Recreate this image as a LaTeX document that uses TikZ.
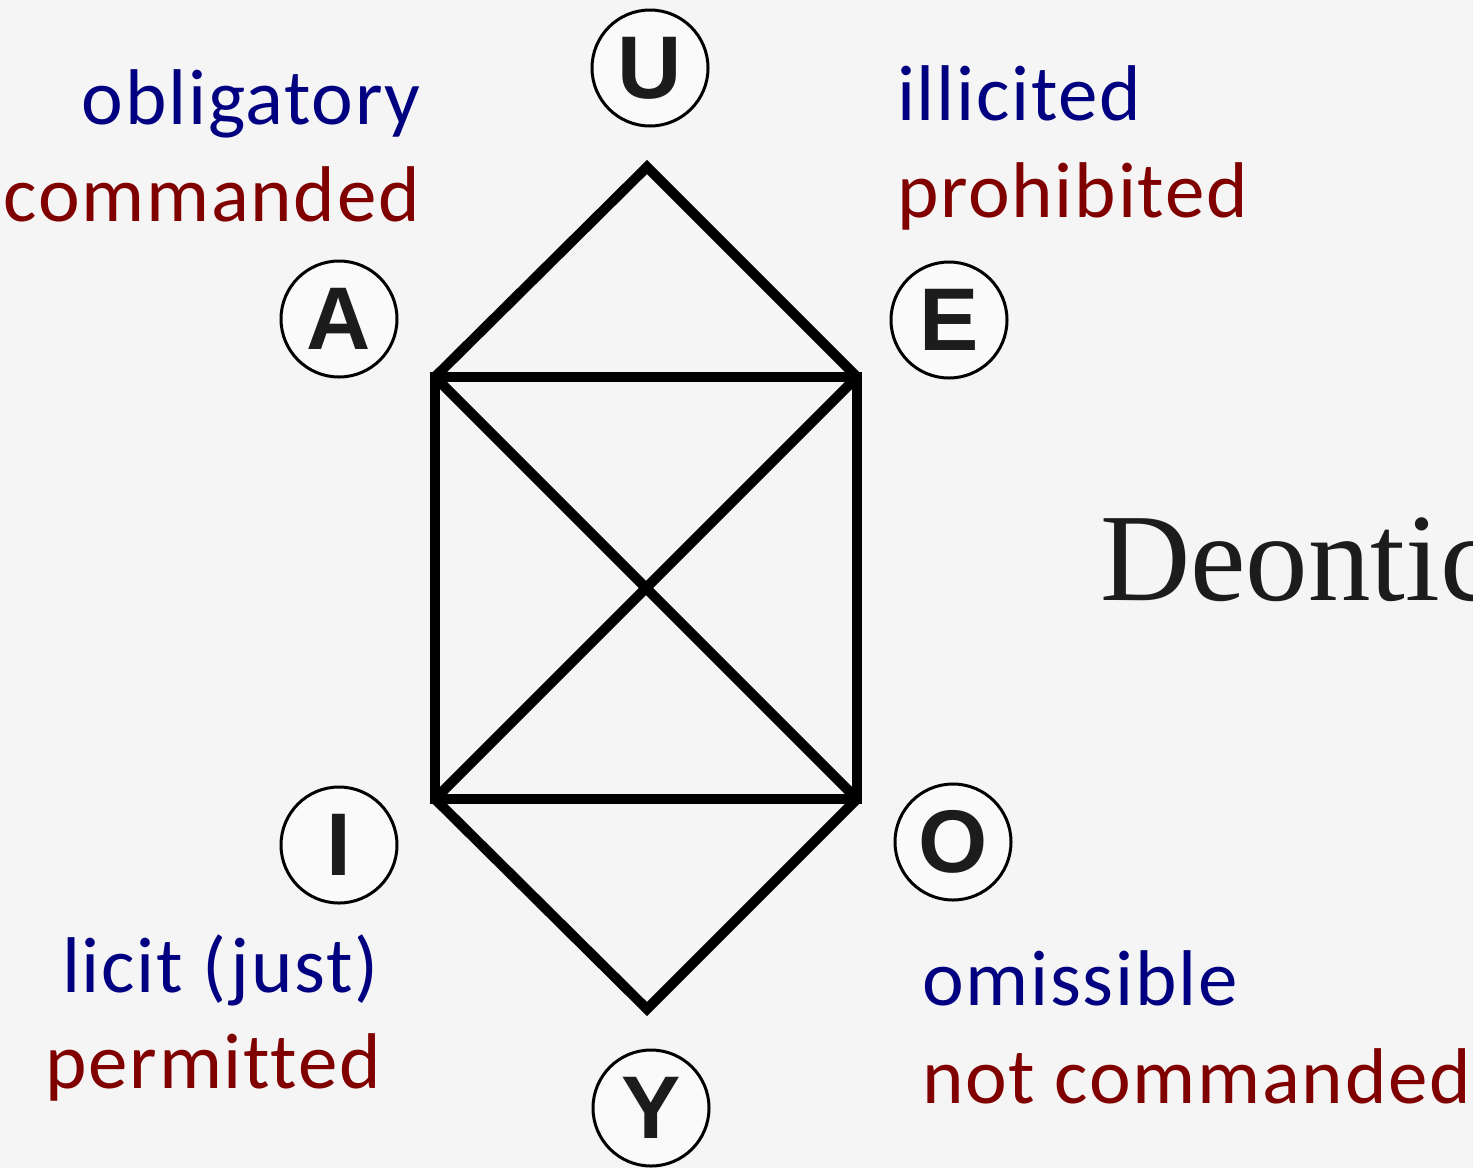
\documentclass[tikz,border=0pt]{standalone}
\usepackage{fontspec}
\setmainfont{Carlito}[LetterSpace=2.2,Ligatures=NoCommon]
\newfontfamily\letterfont{Liberation Sans}
\newfontfamily\titlefont{Liberation Serif}
\definecolor{bg}{HTML}{F5F5F5}
\definecolor{circfill}{HTML}{FAFAFA}
\definecolor{ink}{HTML}{1C1C1C}
\definecolor{navyblue}{HTML}{000080}
\definecolor{darkred}{HTML}{800000}
\tikzset{
  corner/.style={circle, draw=black, line width=3pt, fill=circfill, minimum size=116pt, inner sep=0pt,
    text=ink, font=\letterfont\bfseries\fontsize{89}{89}\selectfont},
  bluelabel/.style={inner sep=0pt, text=navyblue, font=\fontsize{79}{90}\selectfont},
  redlabel/.style={inner sep=0pt, text=darkred, font=\fontsize{79}{90}\selectfont},
  edge/.style={line width=10pt, line cap=butt, line join=miter},
}
\begin{document}
\begin{tikzpicture}[x=1pt,y=-1pt]
\fill[bg] (0,0) rectangle (1473,1168);
\useasboundingbox (0,0) rectangle (1473,1168);
% vertices of the figure
\coordinate (vU) at (647,167);
\coordinate (vA) at (435,377);
\coordinate (vE) at (857,377);
\coordinate (vI) at (435,799);
\coordinate (vO) at (857,799);
\coordinate (vY) at (647,1009);
\draw[edge] (vA) -- (vU) -- (vE);
\draw[edge] (vI) -- (vY) -- (vO);
\draw[edge] (vA) -- (vE) -- (vO) -- (vI) -- cycle;
\draw[edge] (vA) -- (vO);
\draw[edge] (vE) -- (vI);
% letter circles
\node[corner] (U) at (650,68) {U};
\node[corner] (A) at (339,319) {A};
\node[corner] (E) at (949,320) {E};
\node[corner] (I) at (339,845) {I};
\node[corner] (O) at (953,842) {O};
\node[corner] (Y) at (651,1108) {Y};
% labels
\node[bluelabel, anchor=base east] (obl) at (421,124) {obligatory};
\node[redlabel, anchor=base east] (com) at (420,221) {commanded};
\node[bluelabel, anchor=base west] (ill) at (897,120) {illicited};
\node[redlabel, anchor=base west] (pro) at (897,217) {prohibited};
\node[bluelabel, anchor=base east] (lic) at (379,992) {licit (just)};
\node[redlabel, anchor=base east] (per) at (381,1088) {permitted};
\node[bluelabel, anchor=base west] (omi) at (922,1005) {omissible};
\node[redlabel, anchor=base west] (notc) at (922,1103) {not commanded};
% title (cut off by the right edge, as in the reference)
\node[inner sep=0pt, anchor=base west, text=ink, font=\titlefont\fontsize{125}{125}\selectfont] (title) at (1100,600) {Deontic};
\end{tikzpicture}
\end{document}
